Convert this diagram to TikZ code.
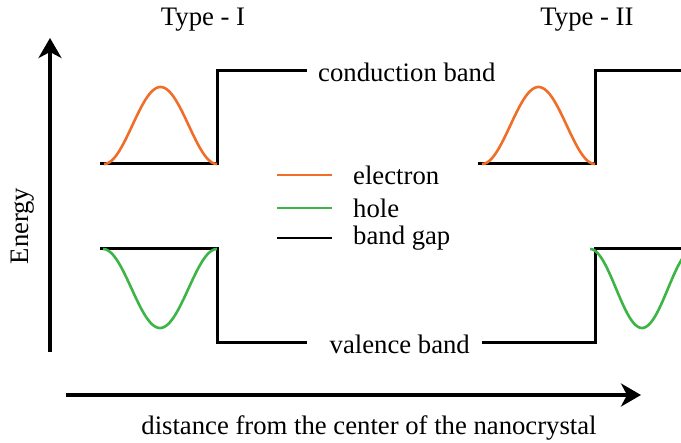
\documentclass[tikz,border=0pt]{standalone}
\usepackage{fontspec}
\setmainfont{Liberation Serif}
\usetikzlibrary{arrows.meta}
\definecolor{eorange}{RGB}{240,110,40}
\definecolor{hgreen}{RGB}{60,180,70}
\begin{document}
\begin{tikzpicture}[x=1pt,y=-1pt,
  every node/.style={font=\fontsize{26.7}{32}\selectfont, inner sep=0pt},
  band/.style={line width=3pt, line join=miter},
  axis/.style={line width=3.5pt, -{Stealth[length=20pt,width=23pt,inset=6pt]}},
  ecurve/.style={eorange, line width=2.6pt},
  hcurve/.style={hgreen, line width=2.6pt}]
\useasboundingbox (0,0) rectangle (681,443);
% axes
\coordinate (yb) at (50,352);
\coordinate (yt) at (50,38);
\coordinate (xl) at (66,395);
\coordinate (xr) at (641,395);
\draw[axis] (yb) -- (yt);
\draw[axis] (xl) -- (xr);
\node[rotate=90] (energy) at (23,226) {Energy};
\node (dist) at (369,428) {distance from the center of the nanocrystal};
\node (t1) at (203,20) {Type - I};
\node (t2) at (587,20) {Type - II};
% Type I bands
\draw[band] (100,164) -- (217,164) -- (217,71) -- (307,71);
\draw[band] (100,249) -- (217,249) -- (217,343) -- (307,343);
\node[anchor=west] (cb) at (318,72) {conduction band};
\node[anchor=east] (vb) at (470,344) {valence band};
% Type II bands
\draw[band] (478,164) -- (595,164) -- (595,71) -- (681,71);
\draw[band] (482,343) -- (595,343) -- (595,249) -- (681,249);
% curves (parameter = angle 0..180)
\draw[ecurve] plot[domain=0:180, samples=80] ({104+0.6278*\x}, {164-77*sin(\x)*sin(\x)});
\draw[ecurve] plot[domain=0:180, samples=80] ({482+0.6278*\x}, {164-77*sin(\x)*sin(\x)});
\draw[hcurve] plot[domain=0:180, samples=80] ({103+0.6333*\x}, {249+79*sin(\x)*sin(\x)});
\begin{scope}
\clip (590,0) rectangle (681,443);
\draw[hcurve] plot[domain=0:180, samples=80] ({590+0.5778*\x}, {249+79*sin(\x)*sin(\x)});
\end{scope}
% legend
\coordinate (le1) at (277,175); \coordinate (le2) at (332,175);
\coordinate (lh1) at (277,208); \coordinate (lh2) at (332,208);
\coordinate (lb1) at (277,238); \coordinate (lb2) at (332,238);
\draw[ecurve] (le1) -- (le2);
\draw[hcurve] (lh1) -- (lh2);
\draw[line width=2.6pt] (lb1) -- (lb2);
\node[anchor=west] (lel) at (353,175) {electron};
\node[anchor=west] (lhl) at (353,208) {hole};
\node[anchor=west] (lbl) at (353,238) {band gap};
\end{tikzpicture}
\end{document}
